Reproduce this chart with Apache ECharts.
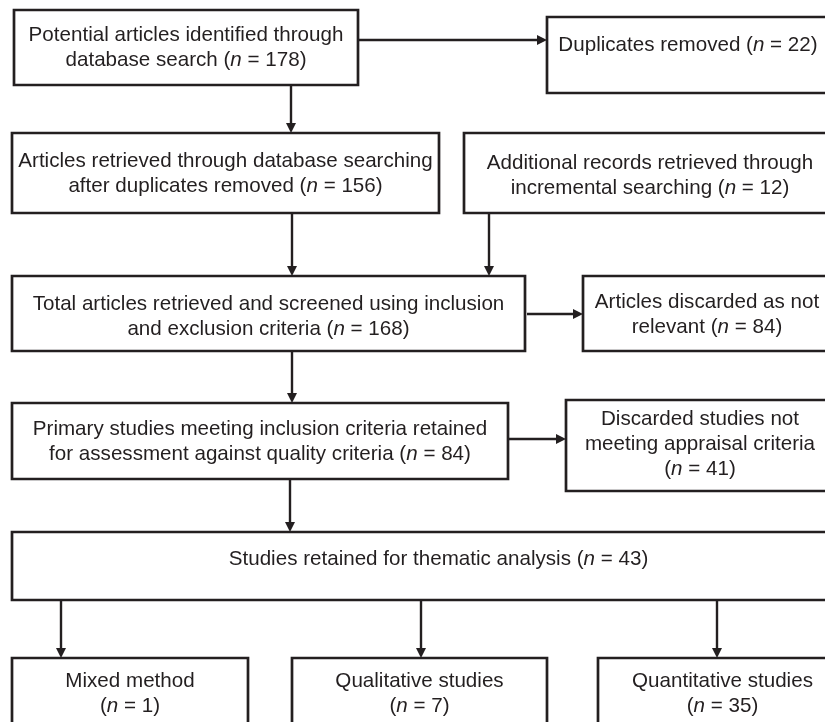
<!DOCTYPE html>
<html>
<head>
<meta charset="utf-8">
<script src="https://cdn.jsdelivr.net/npm/echarts@6/dist/echarts.min.js"></script>
<style>
html,body{margin:0;padding:0;background:#fff;}
#chart{width:825px;height:722px;}
</style>
</head>
<body>
<div id="chart"></div>
<script>
// ---- Content (flow-chart text and counts) ----
const boxLabels = [
  "Potential articles identified through\ndatabase search",
  "Duplicates removed",
  "Articles retrieved through database searching\nafter duplicates removed",
  "Additional records retrieved through\nincremental searching",
  "Total articles retrieved and screened using inclusion\nand exclusion criteria",
  "Articles discarded as not\nrelevant",
  "Primary studies meeting inclusion criteria retained\nfor assessment against quality criteria",
  "Discarded studies not\nmeeting appraisal criteria\n",
  "Studies retained for thematic analysis",
  "Mixed method\n",
  "Qualitative studies\n",
  "Quantitative studies\n"
];
const boxCounts = [178, 22, 156, 12, 168, 84, 84, 41, 43, 1, 7, 35];

// ---- Layout (in the 825 x 722 diagram coordinate space) ----
// [left, top, right, bottom, text-block centre y]
const boxLayout = [
  [14, 10, 358, 85, 48],
  [547, 17, 829, 93, 45],
  [12, 133, 439, 213, 174],
  [464, 133, 836, 213, 176],
  [12, 276, 525, 351, 317],
  [583, 276, 831, 351, 315],
  [12, 403, 508, 479, 442],
  [566, 400, 834, 491, 444],
  [12, 532, 865, 600, 559],
  [12, 658, 248, 770, 694],
  [292, 658, 547, 770, 694],
  [598, 658, 847, 770, 694]
];
// [x0, y0, x1, y1] arrow from -> to (head at the end)
const arrowLayout = [
  [358, 40, 547, 40],
  [291, 85, 291, 133],
  [292, 213, 292, 276],
  [489, 213, 489, 276],
  [527, 314, 583, 314],
  [292, 351, 292, 403],
  [508, 439, 566, 439],
  [290, 479, 290, 532],
  [61, 600, 61, 658],
  [421, 600, 421, 658],
  [717, 600, 717, 658]
];

const INK = '#231f20';
const FONT = '"Liberation Sans", Arial, Helvetica, sans-serif';
const FS = 20.6, LH = 25;

function labelText(i) {
  const lab = boxLabels[i];
  const sep = lab.endsWith('\n') ? '' : ' ';
  return lab + sep + '({i|n} = ' + boxCounts[i] + ')';
}

const chart = echarts.init(document.getElementById('chart'), null, {renderer: 'canvas'});
chart.setOption({
  backgroundColor: '#ffffff',
  animation: false,
  grid: {left: 0, right: 0, top: 0, bottom: 0, containLabel: false},
  xAxis: {type: 'value', min: 0, max: 825, show: false},
  yAxis: {type: 'value', min: 0, max: 722, inverse: true, show: false},
  series: [
    {
      type: 'custom',
      coordinateSystem: 'cartesian2d',
      clip: false,
      z: 2,
      data: boxLayout.map((b, i) => [b[0], b[1], b[2], b[3], b[4], i]),
      renderItem: function (params, api) {
        const p0 = api.coord([api.value(0), api.value(1)]);
        const p1 = api.coord([api.value(2), api.value(3)]);
        const ty = api.coord([0, api.value(4)])[1];
        const i = api.value(5);
        return {
          type: 'group',
          children: [
            {
              type: 'rect',
              shape: {x: p0[0], y: p0[1], width: p1[0] - p0[0], height: p1[1] - p0[1]},
              style: {fill: '#ffffff', stroke: INK, lineWidth: 2.7}
            },
            {
              type: 'text',
              style: {
                text: labelText(i),
                x: (p0[0] + p1[0]) / 2,
                y: ty,
                align: 'center',
                verticalAlign: 'middle',
                fill: INK,
                fontSize: FS,
                fontFamily: FONT,
                lineHeight: LH,
                rich: {
                  i: {fontStyle: 'italic', fontSize: FS, fontFamily: FONT, lineHeight: LH, fill: INK}
                }
              }
            }
          ]
        };
      }
    },
    {
      type: 'custom',
      coordinateSystem: 'cartesian2d',
      clip: false,
      z: 3,
      data: arrowLayout.map(a => a.slice()),
      renderItem: function (params, api) {
        const a = api.coord([api.value(0), api.value(1)]);
        const b = api.coord([api.value(2), api.value(3)]);
        const dx = b[0] - a[0], dy = b[1] - a[1];
        const len = Math.sqrt(dx * dx + dy * dy) || 1;
        const ux = dx / len, uy = dy / len;
        const nx = -uy, ny = ux;
        const L = 10, W = 5;
        const bx = b[0] - ux * L, by = b[1] - uy * L;
        return {
          type: 'group',
          children: [
            {
              type: 'line',
              shape: {x1: a[0], y1: a[1], x2: bx + ux, y2: by + uy},
              style: {stroke: INK, lineWidth: 2.4}
            },
            {
              type: 'polygon',
              shape: {points: [[b[0], b[1]], [bx + nx * W, by + ny * W], [bx - nx * W, by - ny * W]]},
              style: {fill: INK}
            }
          ]
        };
      }
    }
  ]
});
</script>
</body>
</html>
